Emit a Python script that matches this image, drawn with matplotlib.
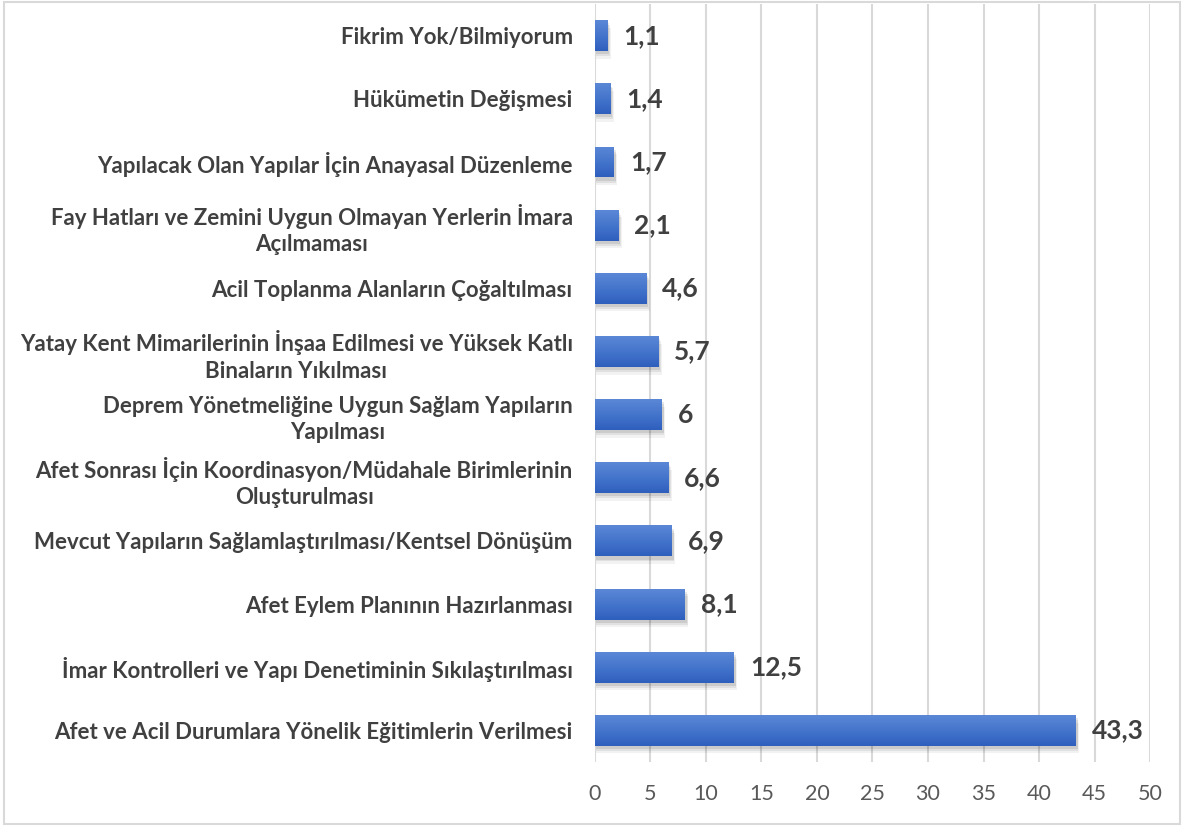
import matplotlib.pyplot as plt
import numpy as np
from matplotlib.patches import Rectangle
from matplotlib.colors import LinearSegmentedColormap

plt.rcParams['font.family'] = ['Lato', 'DejaVu Sans']

categories = [
    'Fikrim Yok/Bilmiyorum',
    'Hükümetin Değişmesi',
    'Yapılacak Olan Yapılar İçin Anayasal Düzenleme',
    'Fay Hatları ve Zemini Uygun Olmayan Yerlerin İmara\nAçılmaması',
    'Acil Toplanma Alanların Çoğaltılması',
    'Yatay Kent Mimarilerinin İnşaa Edilmesi ve Yüksek Katlı\nBinaların Yıkılması',
    'Deprem Yönetmeliğine Uygun Sağlam Yapıların\nYapılması',
    'Afet Sonrası İçin Koordinasyon/Müdahale Birimlerinin\nOluşturulması',
    'Mevcut Yapıların Sağlamlaştırılması/Kentsel Dönüşüm',
    'Afet Eylem Planının Hazırlanması',
    'İmar Kontrolleri ve Yapı Denetiminin Sıkılaştırılması',
    'Afet ve Acil Durumlara Yönelik Eğitimlerin Verilmesi',
]
values = [1.1, 1.4, 1.7, 2.1, 4.6, 5.7, 6, 6.6, 6.9, 8.1, 12.5, 43.3]
labels = ['1,1', '1,4', '1,7', '2,1', '4,6', '5,7', '6', '6,6', '6,9', '8,1', '12,5', '43,3']
xticks = [0, 5, 10, 15, 20, 25, 30, 35, 40, 45, 50]

fig = plt.figure(figsize=(11.84, 8.26), dpi=100)
ax = fig.add_axes([0.5025, 0.0775, 0.4688, 0.9175])

# frame round the chart
fig.patches.append(Rectangle((0.003, 0.003), 0.994, 0.994, transform=fig.transFigure,
                             fill=False, edgecolor='#d9d9d9', linewidth=1.5))

y = np.arange(len(values))
h = 0.49
grad = np.linspace(0, 1, 64).reshape(-1, 1)
cmap = LinearSegmentedColormap.from_list('g', ['#5b87d6', '#4475cc', '#2f5fbd'])

for yi, v in zip(y, values):
    # soft shadow, a few layers
    for k, a in [(0.12, 0.05), (0.08, 0.07), (0.05, 0.09)]:
        ax.add_patch(Rectangle((0.08, yi - h / 2 + k), v + k * 2, h, facecolor='#000000',
                               alpha=a, edgecolor='none', zorder=2))
    bar = Rectangle((0, yi - h / 2), v, h, facecolor='#4472c4', edgecolor='none', zorder=3)
    ax.add_patch(bar)
    im = ax.imshow(grad, cmap=cmap, aspect='auto', extent=(0, v, yi + h / 2, yi - h / 2),
                   zorder=3.5, origin='upper', interpolation='bilinear')
    im.set_clip_path(bar)

for yi, v, lab in zip(y, values, labels):
    ax.text(v + 1.45, yi, lab, va='center', ha='left', fontsize=19, fontweight='bold',
            color='#404040')

ax.set_xlim(0, 50)
ax.set_ylim(len(values) - 0.5, -0.5)
ax.set_xticks(xticks)
ax.set_yticks(y)
ax.set_yticklabels(categories, fontsize=16, fontweight='bold', color='#404040',
                   multialignment='center', linespacing=1.3)
ax.tick_params(axis='x', length=0, labelsize=15.5, labelcolor='#595959', pad=16)
ax.tick_params(axis='y', length=0, pad=16)
ax.grid(axis='x', color='#d9d9d9', linewidth=1.5, zorder=0)
ax.set_axisbelow(True)
for s in ax.spines.values():
    s.set_visible(False)

fig.savefig('out.png', dpi=100)
